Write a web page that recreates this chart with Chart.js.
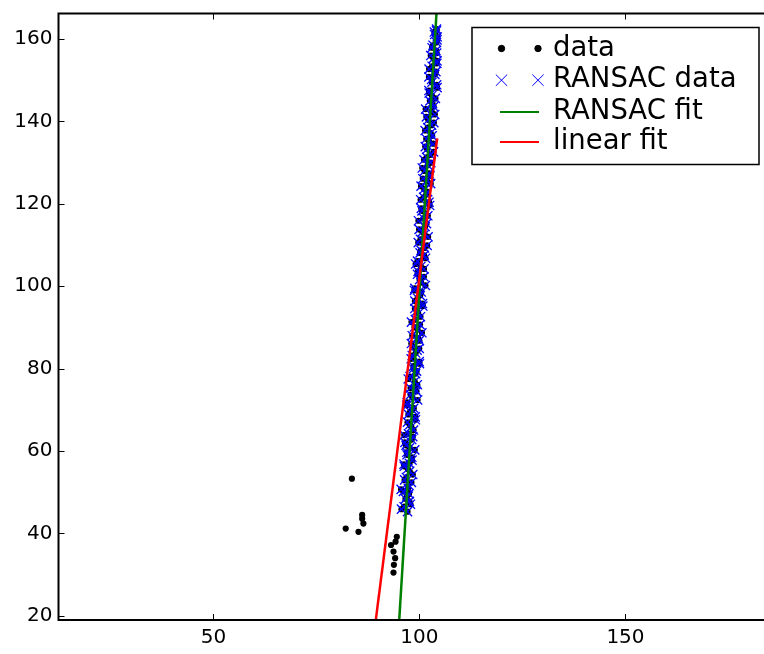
<!DOCTYPE html>
<html>
<head>
<meta charset="utf-8">
<script src="https://cdn.jsdelivr.net/npm/chart.js@4/dist/chart.umd.min.js"></script>
<style>
  html, body { margin: 0; padding: 0; overflow: hidden; background: #fff; }
  canvas { display: block; }
</style>
</head>
<body>
<canvas id="c" width="790" height="654" style="width:790px;height:654px"></canvas>
<script>
// Points rejected by RANSAC (plotted only as black dots)
const outlierX = [82.1, 83.6, 85.2, 86.1, 86.1, 86.4, 94.5, 94.2, 93.1, 93.7, 94.1, 93.8, 93.7];
const outlierY = [41.2, 53.3, 40.4, 44.5, 43.6, 42.4, 39.2, 38.0, 37.2, 35.6, 34.0, 32.4, 30.5];

// Points accepted by RANSAC (black dot + blue cross)
const inlierX = [97.10, 96.27, 97.56, 96.93, 96.11, 97.26, 98.05, 96.83, 97.63, 96.31,
                 97.55, 98.15, 96.93, 97.60, 96.48, 98.37, 97.32, 98.03, 97.10, 98.98,
                 97.76, 98.62, 97.01, 98.28, 99.28, 97.83, 98.84, 97.71, 99.30, 98.57,
                 99.95, 98.24, 99.43, 98.68, 99.97, 98.25, 99.55, 100.13, 99.00, 99.70,
                 98.88, 100.75, 99.54, 100.44, 98.89, 100.38, 101.07, 99.66, 100.34, 99.52,
                 101.11, 100.39, 101.86, 100.26, 101.24, 99.92, 101.71, 100.99, 101.47, 100.45,
                 102.34, 101.02, 102.00, 100.39, 101.87, 102.55, 101.23, 102.02, 101.11, 102.68,
                 101.87, 103.36, 101.64, 102.73, 102.01, 103.49, 101.68, 102.96, 103.44, 102.53,
                 103.01, 102.29, 104.18, 102.96, 103.74, 102.33, 104.22, 103.39, 104.18, 103.06,
                 104.15, 104.30, 103.61, 104.15,
                 95.64, 97.81, 96.60, 97.47, 95.55, 97.32, 96.39, 98.38, 97.17, 96.24,
                 98.20, 96.99, 98.86, 96.74, 98.13, 96.30, 98.57, 97.66, 99.04, 97.32,
                 98.29, 96.96, 99.55, 97.83, 99.01, 99.48, 97.27, 99.06, 98.54, 100.01,
                 97.99, 99.08, 99.95, 98.03, 99.71, 100.60, 98.79, 98.06, 100.25, 99.34,
                 100.82, 98.89, 100.18, 98.76, 101.44, 100.03, 99.51, 101.10, 99.07, 101.47,
                 100.15, 101.23, 99.71, 102.10, 100.68, 101.36, 99.75, 102.03, 100.61, 102.49,
                 100.28, 101.66, 101.15, 102.73, 100.81, 102.29, 100.68, 102.76, 101.74, 103.43,
                 101.41, 102.30, 103.08, 101.37, 102.95, 102.13, 103.72, 101.50, 103.18, 103.87,
                 102.35, 104.28, 103.02, 102.30, 103.99, 103.07, 104.26, 102.74, 104.02, 103.30,
                 104.25, 103.67, 104.13];
const inlierY = [45.3, 46.5, 47.8, 48.9, 50.2, 51.0, 52.4, 53.6, 55.1, 56.3,
                 57.0, 58.5, 59.7, 60.8, 62.1, 63.5, 64.2, 65.9, 67.0, 68.3,
                 69.6, 70.4, 71.8, 73.0, 74.5, 75.3, 76.9, 78.1, 79.4, 80.6,
                 81.7, 83.2, 84.5, 85.3, 86.8, 88.0, 89.5, 90.7, 91.9, 93.4,
                 94.6, 95.8, 97.1, 98.6, 99.5, 100.9, 102.3, 103.6, 104.8, 106.1,
                 107.5, 108.7, 109.9, 111.4, 112.6, 113.8, 115.2, 116.5, 117.7, 118.9,
                 120.4, 121.6, 122.9, 124.3, 125.5, 126.8, 128.0, 129.4, 130.7, 131.9,
                 133.3, 134.6, 135.8, 137.2, 138.5, 139.7, 141.1, 142.4, 143.6, 145.0,
                 146.3, 147.5, 148.9, 150.2, 151.4, 152.7, 154.1, 155.3, 156.6, 157.9,
                 159.2, 160.5, 161.7, 162.4,
                 45.9, 47.1, 48.4, 49.6, 50.7, 51.8, 53.0, 54.3, 55.7, 56.8,
                 57.8, 59.1, 60.3, 61.4, 62.8, 63.9, 65.1, 66.4, 67.6, 68.9,
                 70.0, 71.1, 72.4, 73.7, 74.9, 76.1, 77.5, 78.8, 80.0, 81.2,
                 82.4, 83.8, 84.9, 86.1, 87.4, 88.7, 90.1, 91.3, 92.6, 94.0,
                 95.2, 96.4, 97.8, 99.0, 100.2, 101.6, 102.9, 104.2, 105.4, 106.8,
                 108.1, 109.3, 110.6, 112.0, 113.2, 114.5, 115.9, 117.1, 118.3, 119.6,
                 121.0, 122.3, 123.6, 124.9, 126.1, 127.4, 128.7, 130.0, 131.3, 132.6,
                 133.9, 135.2, 136.5, 137.8, 139.1, 140.4, 141.7, 143.0, 144.3, 145.6,
                 146.9, 148.2, 149.5, 150.8, 152.1, 153.4, 154.7, 156.0, 157.2, 158.5,
                 159.8, 161.1, 162.0];

// Fitted lines, evaluated at the smallest and largest x of the data
const fitX       = [82.1, 104.3];
const ransacFitY = [-192.4, 168.9];
const linearFitY = [-38.3, 135.9];

// Axis ticks
const xTicks = [50, 100, 150];
const yTicks = [20, 40, 60, 80, 100, 120, 140, 160];

const pts = (xs, ys) => xs.map((x, i) => ({ x, y: ys[i] }));
const allData = pts(outlierX.concat(inlierX), outlierY.concat(inlierY));

const FONT = 'DejaVu Sans';

// Black frame with inward tick marks on all four sides
const framePlugin = {
  id: 'frame',
  afterDatasetsDraw(chart) {
    const { ctx, chartArea: a, scales } = chart;
    ctx.save();
    ctx.strokeStyle = '#000';
    ctx.lineWidth = 1;
    const L = 6;
    xTicks.forEach(v => {
      const px = Math.round(scales.x.getPixelForValue(v)) + 0.5;
      ctx.beginPath();
      ctx.moveTo(px, a.bottom); ctx.lineTo(px, a.bottom - L);
      ctx.moveTo(px, a.top); ctx.lineTo(px, a.top + L);
      ctx.stroke();
    });
    yTicks.forEach(v => {
      const py = Math.round(scales.y.getPixelForValue(v)) + 0.5;
      ctx.beginPath();
      ctx.moveTo(a.left, py); ctx.lineTo(a.left + L, py);
      ctx.moveTo(a.right, py); ctx.lineTo(a.right - L, py);
      ctx.stroke();
    });
    ctx.lineWidth = 2;
    ctx.strokeRect(a.left, a.top, a.right - a.left, a.bottom - a.top);
    ctx.restore();
  }
};

// Boxed legend in the upper-right corner of the plot area
const legendPlugin = {
  id: 'boxLegend',
  afterDraw(chart) {
    const { ctx, chartArea: a } = chart;
    const right = a.right - 14, width = 287, left = right - width;
    const top = a.top + 14, height = 137;
    ctx.save();
    ctx.fillStyle = '#fff';
    ctx.fillRect(left, top, width, height);
    ctx.strokeStyle = '#000';
    ctx.lineWidth = 1.5;
    ctx.strokeRect(left, top, width, height);
    ctx.font = '27.5px "' + FONT + '"';
    ctx.textBaseline = 'middle';
    ctx.textAlign = 'left';
    const rowY = [21, 52.7, 84.4, 114.4];
    chart.data.datasets.forEach((ds, i) => {
      const cy = top + rowY[i];
      if (ds.showLine) {
        ctx.strokeStyle = ds.borderColor;
        ctx.lineWidth = 2;
        ctx.beginPath();
        ctx.moveTo(left + 28, cy); ctx.lineTo(left + 67, cy);
        ctx.stroke();
      } else {
        [left + 29.5, left + 66].forEach(mx => {
          ctx.fillStyle = ds.backgroundColor;
          ctx.strokeStyle = ds.borderColor;
          ctx.lineWidth = 1;
          const r = ds.pointStyle === 'circle' ? 3.2 : 8;
          Chart.helpers.drawPoint(ctx, { pointStyle: ds.pointStyle, radius: r,
            borderWidth: 1, rotation: 0 }, mx, cy);
        });
      }
      ctx.fillStyle = '#000';
      ctx.fillText(ds.label, left + 81, cy);
    });
    ctx.restore();
  }
};

new Chart(document.getElementById('c'), {
  type: 'scatter',
  data: {
    datasets: [
      { label: 'data', data: allData, pointStyle: 'circle', pointRadius: 3.1,
        backgroundColor: '#000', borderColor: '#000', borderWidth: 0, order: 4, clip: 0 },
      { label: 'RANSAC data', data: pts(inlierX, inlierY), pointStyle: 'crossRot', pointRadius: 6.5,
        backgroundColor: '#0000ff', borderColor: '#0000ff', borderWidth: 1.3, order: 3, clip: 0 },
      { label: 'RANSAC fit', data: pts(fitX, ransacFitY), showLine: true, pointRadius: 0,
        borderColor: '#008000', borderWidth: 2.5, order: 2, clip: 0 },
      { label: 'linear fit', data: pts(fitX, linearFitY), showLine: true, pointRadius: 0,
        borderColor: '#ff0000', borderWidth: 2.5, order: 1, clip: 0 }
    ]
  },
  options: {
    responsive: false,
    animation: false,
    events: [],
    layout: { padding: { top: 13.5, right: 17, bottom: 0, left: 0 } },
    plugins: { legend: { display: false }, tooltip: { enabled: false } },
    scales: {
      x: {
        type: 'linear', min: 12.4, max: 185.8,
        grid: { display: false, drawTicks: false },
        border: { display: false },
        afterBuildTicks: s => { s.ticks = xTicks.map(v => ({ value: v })); },
        afterFit: s => { s.height = 34; s.paddingLeft = 0; s.paddingRight = 0; },
        ticks: { autoSkip: false, maxRotation: 0, padding: 6, color: '#000',
                 font: { family: FONT, size: 20 } }
      },
      y: {
        type: 'linear', min: 19.0, max: 166.2,
        grid: { display: false, drawTicks: false },
        border: { display: false },
        afterBuildTicks: s => { s.ticks = yTicks.map(v => ({ value: v })); },
        afterFit: s => { s.width = 58.5; s.paddingTop = 0; s.paddingBottom = 0; },
        ticks: { autoSkip: false, padding: 6, color: '#000',
                 font: { family: FONT, size: 20 } }
      }
    }
  },
  plugins: [framePlugin, legendPlugin]
});
</script>
</body>
</html>
